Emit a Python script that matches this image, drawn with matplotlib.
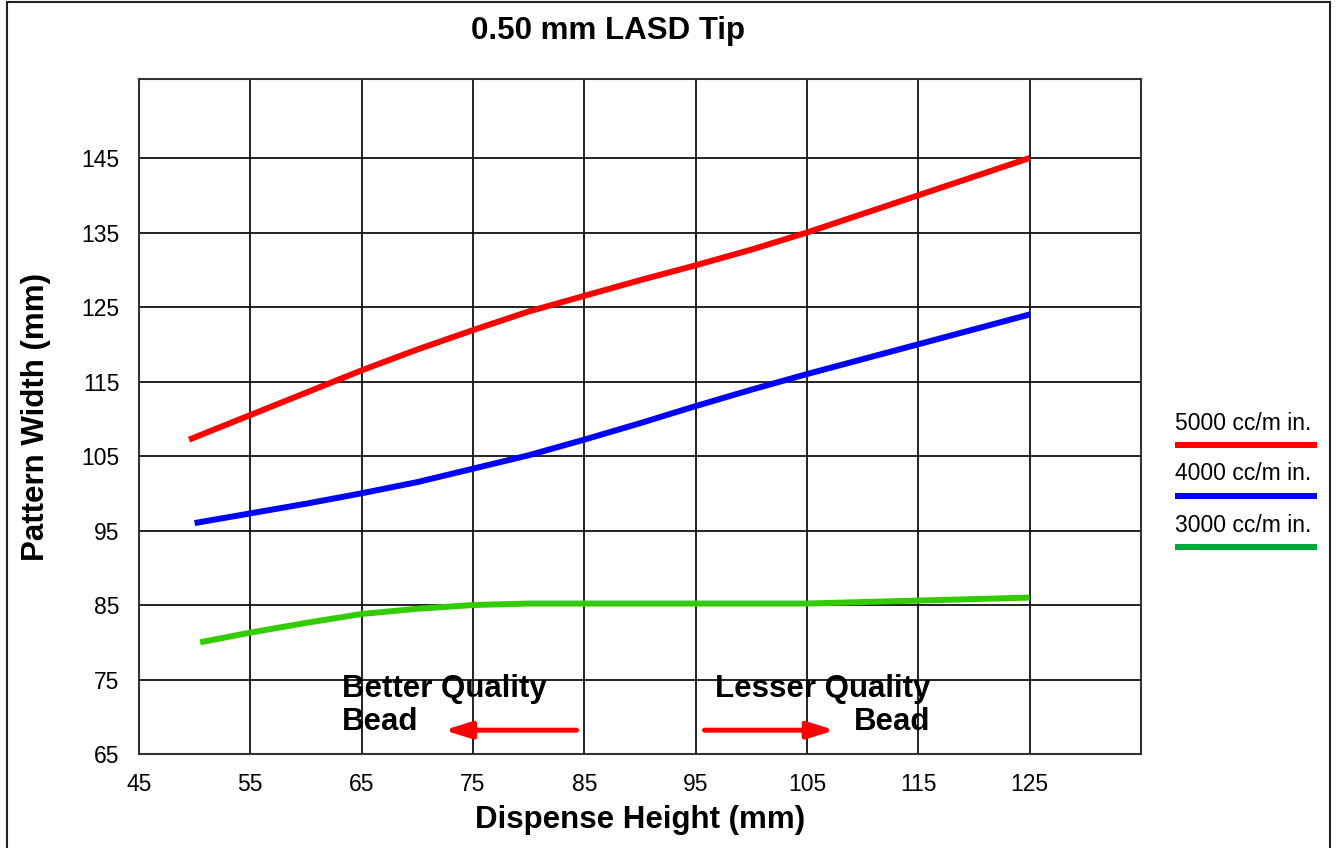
import matplotlib

matplotlib.use("Agg")
import matplotlib.pyplot as plt
from matplotlib.lines import Line2D
from matplotlib.patches import Rectangle

plt.rcParams["font.family"] = ["Liberation Sans", "DejaVu Sans"]

# dispense height (mm) vs pattern width (mm)
HEIGHT_5000 = [49.5, 55, 60, 65, 70, 75, 80, 85, 90, 95, 100, 105, 110, 115, 120, 125]
WIDTH_5000 = [107.2, 110.5, 113.5, 116.5, 119.3, 121.9, 124.4, 126.5, 128.6, 130.6,
              132.7, 135.0, 137.5, 140.0, 142.5, 145.0]
HEIGHT_4000 = [50, 55, 60, 65, 70, 75, 80, 85, 90, 95, 100, 105, 110, 115, 120, 125]
WIDTH_4000 = [96.0, 97.3, 98.6, 100.0, 101.5, 103.3, 105.1, 107.2, 109.4, 111.7,
              113.9, 116.0, 118.0, 120.0, 122.0, 124.0]
HEIGHT_3000 = [50.5, 55, 60, 65, 70, 75, 80, 85, 95, 105, 115, 125]
WIDTH_3000 = [80.0, 81.3, 82.6, 83.8, 84.5, 85.0, 85.2, 85.2, 85.2, 85.2, 85.6, 86.0]

LABELS = ["5000 cc/m in.", "4000 cc/m in.", "3000 cc/m in."]
LINE_COLORS = ["#ff0000", "#0000ff", "#33cc00"]
KEY_COLORS = ["#ff0000", "#0000ff", "#00a83a"]

X_TICKS = [45, 55, 65, 75, 85, 95, 105, 115, 125]
Y_TICKS = [65, 75, 85, 95, 105, 115, 125, 135, 145]

fig = plt.figure(figsize=(13.36, 8.48), dpi=100)
ax = fig.add_axes([0.104, 0.1108, 0.750, 0.796])

series = [(HEIGHT_5000, WIDTH_5000), (HEIGHT_4000, WIDTH_4000), (HEIGHT_3000, WIDTH_3000)]
for (xs, ys), c in zip(series, LINE_COLORS):
    ax.plot(xs, ys, color=c, linewidth=4.3, solid_capstyle="butt",
            solid_joinstyle="round", zorder=3)

ax.set_xlim(45, 135)
ax.set_ylim(65, 155.6)
ax.set_xticks(X_TICKS)
ax.set_yticks(Y_TICKS)
ax.tick_params(length=0, labelsize=16.5, pad=14)
ax.grid(True, color="#111", linewidth=1.3)
ax.set_axisbelow(True)
for sp in ax.spines.values():
    sp.set_color("#333")
    sp.set_linewidth(1.5)

ax.set_xlabel("Dispense Height (mm)", fontsize=22.5, fontweight="bold", labelpad=6)
ax.set_ylabel("Pattern Width (mm)", fontsize=22.5, fontweight="bold", labelpad=22)
fig.text(0.455, 0.963, "0.50 mm LASD Tip", fontsize=22.5, fontweight="bold",
         ha="center", va="center")

# quality annotations
ax.text(63.2, 73.7, "Better Quality", fontsize=22.5, fontweight="bold", ha="left", va="center")
ax.text(63.2, 69.3, "Bead", fontsize=22.5, fontweight="bold", ha="left", va="center")
ax.text(96.7, 73.7, "Lesser Quality", fontsize=22.5, fontweight="bold", ha="left", va="center")
ax.text(116.1, 69.3, "Bead", fontsize=22.5, fontweight="bold", ha="right", va="center")
arrow = dict(arrowstyle="-|>,head_length=0.8,head_width=0.25", mutation_scale=20,
             color="#ff0000", linewidth=3.6, shrinkA=0, shrinkB=0)
ax.annotate("", xy=(72.4, 68.2), xytext=(84.3, 68.2), arrowprops=arrow)
ax.annotate("", xy=(107.5, 68.2), xytext=(95.8, 68.2), arrowprops=arrow)

# legend: label above a coloured key line
x0, x1 = 1175 / 1336, 1317 / 1336
for i, (lab, c) in enumerate(zip(LABELS, KEY_COLORS)):
    ty = 1 - (423 + 51 * i) / 848
    ly = 1 - (445 + 51 * i) / 848
    fig.text(x0, ty, lab, fontsize=16.5, ha="left", va="center")
    fig.add_artist(Line2D([x0, x1], [ly, ly], color=c, linewidth=4.3,
                          solid_capstyle="butt", transform=fig.transFigure))

fig.add_artist(Rectangle((7 / 1336, -0.02), 1323 / 1336, 1.02 - 2.5 / 848,
                         transform=fig.transFigure, fill=False,
                         edgecolor="#222", linewidth=1.5))

fig.savefig("out.png", dpi=100)
